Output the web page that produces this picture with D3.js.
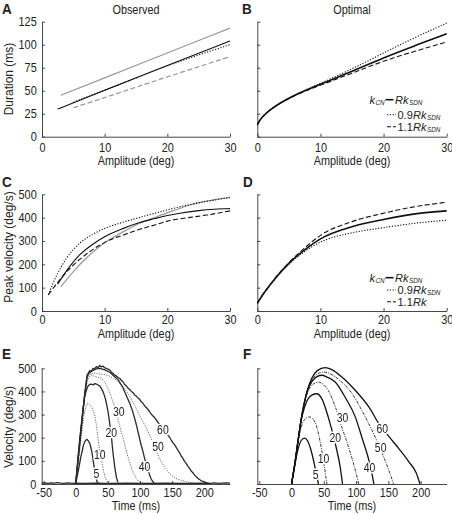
<!DOCTYPE html>
<html><head><meta charset="utf-8">
<script src="https://cdn.jsdelivr.net/npm/d3@7"></script>
<style>
body{margin:0;background:#fff}
svg{display:block}
text{font-family:"Liberation Sans",Arial,Helvetica,sans-serif;fill:#222}
</style>
</head><body><svg id="c" width="452" height="514"></svg>
<script>
// ---------------- DATA ----------------
const ampTicks = [0, 10, 20, 30];
const durTicks = [0, 25, 50, 75, 100, 125];
const velTicks = [0, 100, 200, 300, 400, 500];
const timeTicks = [-50, 0, 50, 100, 150, 200];

// A: observed duration (ms) vs amplitude (deg)
const obsDurGray   = [[3,45],[10,64],[20,91],[30,118]];
const obsDurBlack  = [[2.5,30],[10,50.5],[20,77.5],[30,104]];
const obsDurDotted = [[5,37.5],[10,50.5],[20,77],[30,100]];
const obsDurDashed = [[5,31.5],[10,42.5],[20,65],[30,87]];

// B: optimal duration
const optAmps      = [0, 0.5, 1, 2, 3, 5, 7.5, 10, 15, 20, 25, 30];
const optDurR      = [13, 19, 23, 29, 34, 42, 50, 57, 71, 86, 99, 112];
const optDur09     = [13, 19, 23, 29, 34, 42, 50.5, 58, 73.5, 91, 108, 123.5];
const optDur11     = [13, 19, 23, 29, 34, 42, 49.5, 56, 69, 82.5, 93, 103];

// C: observed peak velocity
const obsPvDotted = [[1,69],[2.3,150],[3.9,226],[6,290],[8.2,330],[10.3,357],[13,381],[15.6,401],[18.3,421],[21,440],[23.6,456],[26.3,470],[30,486]];
const obsPvBlack  = [[2.5,115],[4,175],[6,240],[8,284],[10,318],[13,354],[15.6,379],[18,396],[20,409],[22,419],[25,430],[27.5,436],[30,439]];
const obsPvGray   = [[3,104],[5,169],[7,225],[10,292],[13,340],[15.6,376],[18.3,404],[21,430],[23.6,454],[26.3,471],[30,487]];
const obsPvDashed = [[1,69],[2.9,136],[5,197],[7.1,244],[10,294],[13,326],[15.6,350],[18.3,371],[20,385],[23.6,401],[26.3,411],[30,429]];

// D: optimal peak velocity
const optPvAmps = [0, 1, 2, 3, 5, 7.5, 10, 15, 20, 25, 30];
const optPvR    = [33, 75, 111, 145, 204, 262, 309, 361, 392, 416, 429];
const optPv09   = [33, 75, 110, 143, 200, 255, 295, 335, 357, 376, 389];
const optPv11   = [33, 75, 112, 147, 207, 270, 324, 383, 419, 447, 466];

// E: observed velocity profiles [time ms, velocity deg/s]
const eBaseline = [[-53,4],[-48,5],[-43,3],[-38,5],[-33,4],[-28,6],[-23,4],[-18,3],[-13,5],[-8,4],[-3,3],[0,4],[10,3],[30,4],[50,3],[80,4],[110,3],[140,4],[170,3],[200,4],[210,3],[216,5],[222,3],[228,4],[234,5],[240,4]];
const e5  = [[0,3],[3,45],[5.2,75],[8,118],[10.4,147],[12,168],[14,183],[16,190],[17.6,193],[19.5,186],[21.7,176],[23.5,158],[25.4,133],[27,103],[28.5,75],[30,50],[31.1,32],[33.1,10],[35.2,3]];
const e10 = [[0,3],[2.5,55],[5.2,118],[8,190],[10.4,248],[13,300],[15.5,334],[17.5,345],[19.7,349],[22,342],[24.3,334],[27,318],[29.5,298],[31.3,268],[33.1,233],[34.7,196],[36.2,161],[38,130],[39.9,104],[41.7,78],[43.5,53],[45.5,33],[47.6,17],[49.7,8],[51.8,3]];
const e20 = [[0,3],[3.6,118],[6,190],[8.8,262],[11.5,330],[14,378],[16.5,405],[19.2,424],[21.7,430],[24.3,432],[27,428],[29.5,434],[32.1,432],[34.7,428],[37.3,424],[40,412],[42.4,399],[44.5,383],[46.6,363],[48.5,338],[50.2,313],[51.5,288],[52.8,262],[54.1,232],[55.4,205],[56.7,170],[58,133],[59.3,104],[60.6,75],[62,50],[63.1,32],[64.4,17],[65.7,7]];
const e30 = [[0,3],[3.6,110],[8.8,255],[14,385],[17.6,440],[20,460],[22,466],[24,471],[27,468],[30,464],[33,462],[36,460],[40,457],[43.8,445],[47.6,428],[51.3,405],[55,378],[58.5,350],[62,320],[65,288],[68,255],[71,222],[74.5,190],[77.8,153],[81,118],[84.5,88],[88,60],[91,40],[94,24],[98,12],[102,6],[106,3]];
const e40 = [[0,3],[3.6,108],[8.8,250],[14,388],[17.6,462],[20,478],[24,486],[28,492],[32,497],[36,500],[40,497],[44,494],[48,490],[52,484],[55,478],[58,470],[62,460],[66,450],[70,432],[73,418],[76,399],[80,374],[84,349],[88,318],[91.6,284],[95,248],[98,212],[101,176],[104.6,140],[107,112],[110,82],[112.5,60],[115,39],[117,24],[119,14],[121,7],[122.7,3]];
const e50 = [[0,3],[3.6,106],[8.8,250],[14,385],[17.6,455],[20,470],[23,475],[27,478],[31,480],[35,476],[40,474],[44,473],[47.6,471],[51,468],[55,462],[59,456],[63,450],[68,437],[73.5,421],[79,400],[84,378],[89,352],[94,327],[99,298],[104.6,269],[110,240],[115,212],[119,186],[122.7,161],[126.5,136],[130,111],[134,92],[138,75],[142,60],[146,46],[151,34],[156,24],[164,16],[172,10],[180,6],[187,3]];
const e60 = [[0,3],[3.6,104],[8.8,248],[14,392],[17.6,471],[19.5,478],[21.7,490],[24,486],[26.9,500],[29,497],[32.1,507],[34.5,503],[37.3,512],[39.5,506],[42.4,509],[45,502],[47.6,500],[50,496],[52.8,493],[55.5,483],[58,478],[60.5,471],[63.1,467],[65.7,460],[68.3,457],[71,447],[73.5,442],[76,430],[78.7,424],[81.3,414],[83.9,409],[86.5,400],[89,395],[91.6,385],[94.2,380],[96.8,372],[99.4,366],[102,355],[104.6,349],[107,338],[109.7,331],[112.3,322],[114.9,313],[117.5,302],[120.1,294],[122.7,287],[125.3,277],[127.8,266],[130.4,259],[133,248],[135.6,241],[138.2,229],[140.8,222],[143.4,210],[146,202],[148.5,190],[151.1,179],[153.7,170],[156.3,158],[158.9,146],[161.5,135],[164,121],[166.7,111],[169.2,98],[171.8,89],[174.4,77],[177,68],[179.6,56],[182.2,49],[184.8,39],[187.4,32],[190,24],[192.5,20],[195,14],[197.7,12],[200.3,8],[202.9,6],[205.5,4],[208,3]];
const eLabels = [["5",32,43],["10",37.3,128],["20",55.4,222],["30",66.8,313],["40",107,75],["50",128,161],["60",135.6,233]];

// F: optimal velocity profiles
const f5  = [[0,0],[5,80],[10,150],[15,188],[20,198],[25,186],[30,148],[35,90],[39,35],[41.7,0]];
const f10 = [[0,0],[5,85],[10,180],[15,245],[20,278],[28,290],[36.5,267],[44,187],[49.5,100],[53,35],[54.7,0]];
const f20 = [[0,0],[5,85],[10,185],[15,275],[20,330],[25,365],[32,385],[39,390],[47,368],[57,288],[68,172],[75.5,71],[79,0]];
const f30 = [[0,0],[5,85],[10,185],[15,280],[20,350],[25,395],[32,428],[41.7,440],[50,428],[57,404],[68,332],[78,245],[88.5,158],[99,57],[104,0]];
const f40 = [[0,0],[5,85],[10,185],[15,280],[20,352],[25,405],[32,445],[40,465],[47,470],[55,462],[68,440],[83,375],[99,288],[109,201],[120,100],[124.5,45],[127.6,0]];
const f50 = [[0,0],[5,85],[10,185],[15,280],[20,354],[25,408],[32,452],[40,475],[49.5,484],[60,476],[73,452],[94,390],[109,317],[125,230],[141,129],[151,57],[158,0]];
const f60 = [[0,0],[5,85],[10,185],[15,280],[20,355],[25,410],[32,460],[40,490],[52,503],[62.5,494],[78,462],[99,404],[120,332],[135,262],[151,205],[167,150],[182,95],[193,49],[199,0]];
const fLabels = [["5",37.5,39],["10",49.5,110],["20",67.7,201],["30",79,288],["40",120.8,68],["50",138,155],["60",140.6,238]];

// ---------------- DRAW ----------------
const svg = d3.select("#c");
const AX = "#333";
const SQ = 0.87;      // horizontal condensing of lettering
const FS = 12.5;      // base font size

// neutral filter: renders labels in an offscreen buffer (grayscale anti-aliasing)
const defs = svg.append("defs");
defs.append("filter").attr("id", "flat").attr("x", "-20%").attr("y", "-20%").attr("width", "140%").attr("height", "140%")
  .append("feOffset").attr("dx", 0).attr("dy", 0);

function squeeze(sel, x, y){
  sel.attr("transform", `translate(${x},${y}) scale(${SQ},1) translate(${-x},${-y})`);
}

function panel(cfg){
  const x = d3.scaleLinear().domain(cfg.xd).range([cfg.x0, cfg.x1]);
  const y = d3.scaleLinear().domain(cfg.yd).range([cfg.y0, cfg.y1]);
  const gx = svg.append("g").attr("transform",`translate(0,${cfg.y0})`)
    .call(d3.axisBottom(x).tickValues(cfg.xt).tickSizeInner(-3).tickSizeOuter(0)
      .tickPadding(cfg.xpad).tickFormat(d => String(d)));
  const gy = svg.append("g").attr("transform",`translate(${cfg.x0},0)`)
    .call(d3.axisLeft(y).tickValues(cfg.yt).tickSizeInner(-3).tickSizeOuter(0).tickPadding(5.3)
      .tickFormat(cfg.yLabels ? (d => String(d)) : () => ""));
  [gx, gy].forEach(g => {
    g.select(".domain").attr("stroke", AX).attr("stroke-width", 0.9);
    g.selectAll(".tick line").attr("stroke", AX).attr("stroke-width", 0.9);
    g.selectAll(".tick text").attr("font-size", FS).attr("fill", "#222")
      .attr("font-family", '"Liberation Sans",Arial,sans-serif');
  });
  gx.selectAll(".tick text").attr("transform", `scale(${SQ},1)`);
  gy.selectAll(".tick text").each(function(){
    const t = d3.select(this); const tx = +t.attr("x");
    t.attr("x", 0).attr("transform", `translate(${tx},0) scale(${SQ},1)`);
  });
  return {x, y};
}

function drawLine(p, data, style, curve){
  const line = d3.line().x(d => p.x(d[0])).y(d => p.y(d[1])).curve(curve || d3.curveMonotoneX);
  svg.append("path").datum(data).attr("d", line).attr("fill","none")
    .attr("stroke", style.c).attr("stroke-width", style.w)
    .attr("stroke-dasharray", style.d || null).attr("stroke-linejoin","round");
}

function txt(x, y, s, opt){
  opt = opt || {};
  const t = svg.append("text").attr("x", x).attr("y", y).text(s)
    .attr("font-size", opt.size || FS).attr("text-anchor", opt.anchor || "start");
  if (opt.bold) t.attr("font-weight", "bold");
  if (opt.rot) t.attr("transform", `rotate(-90,${x},${y})`);
  else squeeze(t, x, y);
  return t;
}

const zipXY = (xs, ys) => xs.map((v, i) => [v, ys[i]]);

const S = {
  black: {c:"#111", w:1.1},
  blackThick: {c:"#111", w:1.6},
  gray: {c:"#999", w:1.2},
  dotted: {c:"#111", w:1.1, d:"1.2,1.6"},
  dashed: {c:"#111", w:1.1, d:"5,2.5"},
  grayDashed: {c:"#999", w:1.2, d:"5,2.5"},
  eSolid: {c:"#2a2a2a", w:1.3},
  eDotted: {c:"#666", w:1.0, d:"1.2,1.3"},
  fSolid: {c:"#111", w:1.3},
  fDashDot: {c:"#333", w:1.0, d:"3,1.2,1,1.2"}
};

// Panel A
const pA = panel({x0:42, x1:230, y0:136.7, y1:21.7, xd:[0,30], yd:[0,125], xt:ampTicks, yt:durTicks, yLabels:true, xpad:6});
drawLine(pA, obsDurGray, S.gray);
drawLine(pA, obsDurDashed, S.grayDashed);
drawLine(pA, obsDurDotted, S.dotted);
drawLine(pA, obsDurBlack, S.black);

// Panel B
const pB = panel({x0:257.3, x1:446.7, y0:136.7, y1:21.7, xd:[0,30], yd:[0,125], xt:ampTicks, yt:durTicks, yLabels:false, xpad:6});
drawLine(pB, zipXY(optAmps, optDur09), S.dotted, d3.curveBasis);
drawLine(pB, zipXY(optAmps, optDur11), S.dashed, d3.curveBasis);
drawLine(pB, zipXY(optAmps, optDurR), S.blackThick, d3.curveBasis);

// Panel C
const pC = panel({x0:42, x1:230, y0:311, y1:194.3, xd:[0,30], yd:[0,500], xt:ampTicks, yt:velTicks, yLabels:true, xpad:4});
drawLine(pC, obsPvGray, S.gray);
drawLine(pC, obsPvDashed, S.dashed);
drawLine(pC, obsPvDotted, S.dotted);
drawLine(pC, obsPvBlack, S.black);

// Panel D
const pD = panel({x0:257.3, x1:446.7, y0:311, y1:194.3, xd:[0,30], yd:[0,500], xt:ampTicks, yt:velTicks, yLabels:false, xpad:4});
drawLine(pD, zipXY(optPvAmps, optPv09), S.dotted);
drawLine(pD, zipXY(optPvAmps, optPv11), S.dashed);
drawLine(pD, zipXY(optPvAmps, optPvR), S.blackThick);

// Panel E
const pE = panel({x0:41.7, x1:230, y0:484, y1:368.3, xd:[-53,240], yd:[0,500], xt:timeTicks, yt:velTicks, yLabels:true, xpad:4});
drawLine(pE, eBaseline, S.eSolid, d3.curveLinear);
[[e10,S.eDotted],[e30,S.eDotted],[e50,S.eDotted],[e5,S.eSolid],[e20,S.eSolid],[e40,S.eSolid],[e60,S.eSolid]]
  .forEach(([d,s]) => drawLine(pE, d, s, d3.curveLinear));

// Panel F
const pF = panel({x0:257.3, x1:446.5, y0:484, y1:368.3, xd:[-53,240], yd:[0,500], xt:timeTicks, yt:velTicks, yLabels:false, xpad:4});
[[f10,S.fDashDot],[f30,S.fDashDot],[f50,S.fDashDot],[f5,S.fSolid],[f20,S.fSolid],[f40,S.fSolid],[f60,S.fSolid]]
  .forEach(([d,s]) => drawLine(pF, d, s));

function curveLabels(p, labels, color){
  const g = svg.append("g").attr("filter", "url(#flat)");
  labels.forEach(([s, t, v]) => {
    const cx = p.x(t), cy = p.y(v);
    const t0 = g.append("text").attr("x", cx).attr("y", cy).attr("dy","0.35em")
      .attr("text-anchor","middle").attr("font-size", 12).attr("fill", color)
      .attr("stroke", "#fff").attr("stroke-width", 3).attr("stroke-linejoin", "round")
      .attr("paint-order", "stroke").text(s);
    squeeze(t0, cx, cy);
  });
}
curveLabels(pE, eLabels, "#222");
curveLabels(pF, fLabels, "#444");

// Titles, panel letters, axis labels
txt(136, 14, "Observed", {anchor:"middle"});
txt(352, 14, "Optimal", {anchor:"middle"});
txt(2, 14.5, "A", {size:15.5, bold:true});
txt(242, 14.5, "B", {size:15.5, bold:true});
txt(2, 187.5, "C", {size:15.5, bold:true});
txt(243, 187.5, "D", {size:15.5, bold:true});
txt(2, 359.5, "E", {size:15.5, bold:true});
txt(243, 359.5, "F", {size:15.5, bold:true});

txt(136, 165.5, "Amplitude (deg)", {anchor:"middle"});
txt(352, 165.5, "Amplitude (deg)", {anchor:"middle"});
txt(136, 338.5, "Amplitude (deg)", {anchor:"middle"});
txt(352, 338.5, "Amplitude (deg)", {anchor:"middle"});
txt(136, 510.5, "Time (ms)", {anchor:"middle"});
txt(352, 510.5, "Time (ms)", {anchor:"middle"});

txt(12.5, 79, "Duration (ms)", {anchor:"middle", rot:true, size:12});
txt(12.5, 247, "Peak velocity (deg/s)", {anchor:"middle", rot:true, size:12});
txt(12.5, 427, "Velocity (deg/s)", {anchor:"middle", rot:true, size:12});

// Legends
function legend(yRows, third){
  const fs = 11, sub = 6.3;
  const row = (x, y) => svg.append("text").attr("x", x).attr("y", y).attr("font-size", fs);
  // row 1
  const r1 = row(369.5, yRows[0]);
  r1.append("tspan").attr("font-style","italic").text("k");
  r1.append("tspan").attr("font-style","italic").attr("font-size", sub).attr("dy", 1.5).attr("dx", 0.5).text("CN");
  svg.append("line").attr("x1", 385.5).attr("x2", 393.5).attr("y1", yRows[0]-3.8).attr("y2", yRows[0]-3.8)
    .attr("stroke","#111").attr("stroke-width",1.6);
  const r1b = row(395, yRows[0]);
  r1b.append("tspan").attr("font-style","italic").text("Rk");
  r1b.append("tspan").attr("font-style","italic").attr("font-size", sub).attr("dy", 1.5).attr("dx", 0.5).text("SDN");
  // row 2
  svg.append("line").attr("x1", 387).attr("x2", 396).attr("y1", yRows[1]-3.8).attr("y2", yRows[1]-3.8)
    .attr("stroke","#111").attr("stroke-width",1.1).attr("stroke-dasharray","1.2,1.6");
  const r2 = row(397.5, yRows[1]);
  r2.append("tspan").text("0.9");
  r2.append("tspan").attr("font-style","italic").attr("dx", 0.3).text("Rk");
  r2.append("tspan").attr("font-style","italic").attr("font-size", sub).attr("dy", 1.5).attr("dx", 0.5).text("SDN");
  // row 3
  svg.append("line").attr("x1", 387).attr("x2", 396).attr("y1", yRows[2]-3.8).attr("y2", yRows[2]-3.8)
    .attr("stroke","#111").attr("stroke-width",1.1).attr("stroke-dasharray","4,2");
  const r3 = row(397.5, yRows[2]);
  r3.append("tspan").text("1.1");
  r3.append("tspan").attr("font-style","italic").attr("dx", 0.3).text("Rk");
  if (third) r3.append("tspan").attr("font-style","italic").attr("font-size", sub).attr("dy", 1.5).attr("dx", 0.5).text("SDN");
}
legend([103.5, 118.5, 130.5], true);
legend([281.5, 293.8, 305.5], false);
</script>
</body></html>
